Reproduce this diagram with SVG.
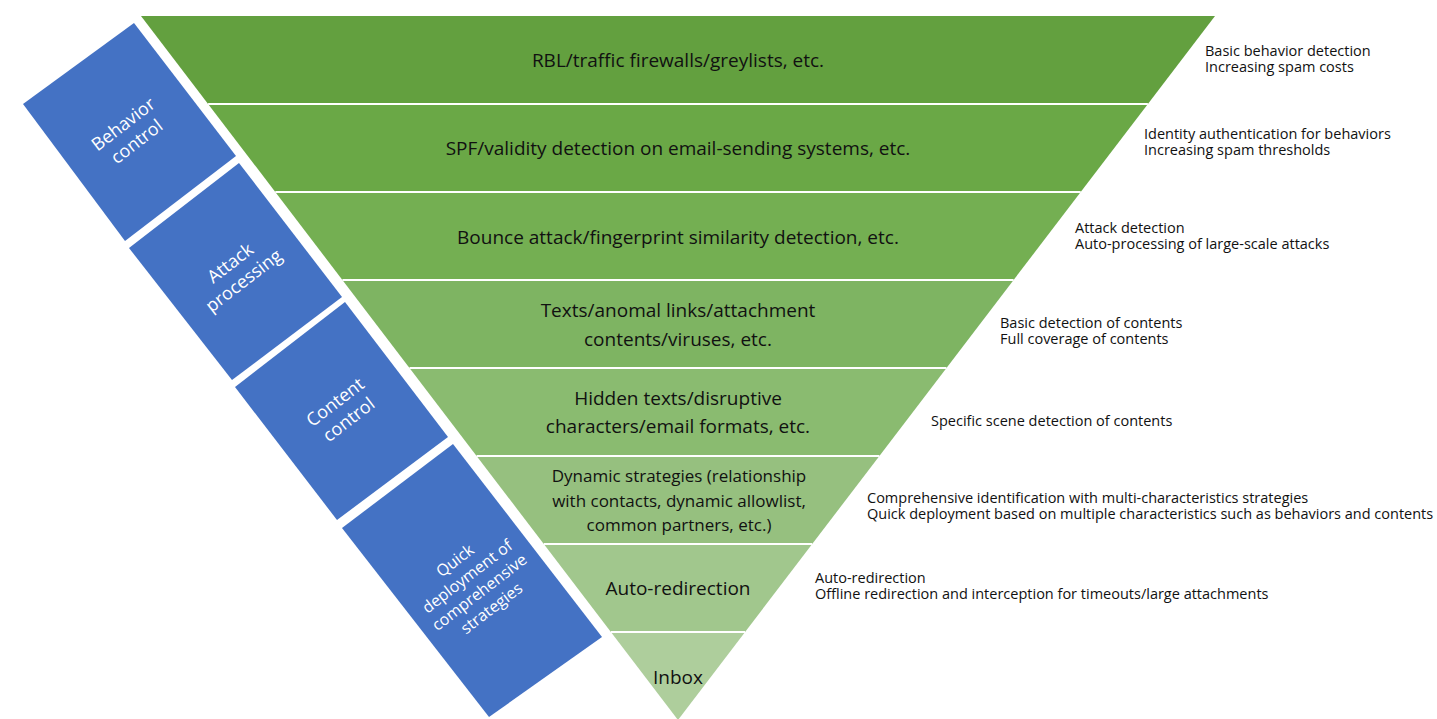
<svg xmlns="http://www.w3.org/2000/svg" width="1437" height="719" viewBox="0 0 1437 719">
  <style>
    .band-label { font-family: "Open Sans", "Noto Sans", sans-serif; font-size: 19px; fill: #111111; text-anchor: middle; }
    .band-label.small { font-size: 17px; }
    .stage { fill: #4472C4; }
    .stage-label { font-family: "Open Sans", "Noto Sans", sans-serif; font-size: 18px; fill: #ffffff; text-anchor: middle; }
    .stage-label.small { font-size: 16px; }
    .note { font-family: "Open Sans", "Noto Sans", sans-serif; font-size: 14.5px; fill: #111111; }
    .divider { stroke: #ffffff; stroke-width: 2; }
  </style>

  <rect width="1437" height="719" fill="#ffffff"/>

  <!-- Funnel bands, darkest at the top -->
  <g id="band-1">
    <polygon points="141,16 1215,16 1147.9,104 208.1,104" fill="#63A03F"/>
    <text class="band-label" x="678" y="67">RBL/traffic firewalls/greylists, etc.</text>
  </g>
  <g id="band-2">
    <polygon points="208.1,104 1147.9,104 1080.7,192 275.3,192" fill="#6AA846"/>
    <text class="band-label" x="678" y="155">SPF/validity detection on email-sending systems, etc.</text>
  </g>
  <g id="band-3">
    <polygon points="275.3,192 1080.7,192 1013.6,280 342.4,280" fill="#74AF52"/>
    <text class="band-label" x="678" y="244">Bounce attack/fingerprint similarity detection, etc.</text>
  </g>
  <g id="band-4">
    <polygon points="342.4,280 1013.6,280 946.5,368 409.5,368" fill="#7EB462"/>
    <text class="band-label" x="678" y="317">Texts/anomal links/attachment</text>
    <text class="band-label" x="678" y="346">contents/viruses, etc.</text>
  </g>
  <g id="band-5">
    <polygon points="409.5,368 946.5,368 879.4,456 476.6,456" fill="#8ABB70"/>
    <text class="band-label" x="678" y="405">Hidden texts/disruptive</text>
    <text class="band-label" x="678" y="433">characters/email formats, etc.</text>
  </g>
  <g id="band-6">
    <polygon points="476.6,456 879.4,456 812.2,544 543.8,544" fill="#96C07F"/>
    <text class="band-label small" x="679" y="482">Dynamic strategies (relationship</text>
    <text class="band-label small" x="679" y="507">with contacts, dynamic allowlist,</text>
    <text class="band-label small" x="679" y="531">common partners, etc.)</text>
  </g>
  <g id="band-7">
    <polygon points="543.8,544 812.2,544 745.1,632 610.9,632" fill="#A1C78D"/>
    <text class="band-label" x="678" y="595">Auto-redirection</text>
  </g>
  <g id="band-8">
    <polygon points="610.9,632 745.1,632 678,720" fill="#AECE9C"/>
    <text class="band-label" x="678" y="684">Inbox</text>
  </g>

  <!-- White separators between bands -->
  <g id="connectors">
    <line class="divider" x1="208.1" y1="104" x2="1147.9" y2="104"/>
    <line class="divider" x1="275.3" y1="192" x2="1080.7" y2="192"/>
    <line class="divider" x1="342.4" y1="280" x2="1013.6" y2="280"/>
    <line class="divider" x1="409.5" y1="368" x2="946.5" y2="368"/>
    <line class="divider" x1="476.6" y1="456" x2="879.4" y2="456"/>
    <line class="divider" x1="543.8" y1="544" x2="812.2" y2="544"/>
    <line class="divider" x1="610.9" y1="632" x2="745.1" y2="632"/>
  </g>

  <!-- Stage blocks along the left edge of the funnel -->
  <g id="stage-behavior">
    <polygon class="stage" points="134,23 236,156 125,241 23,104"/>
    <g transform="translate(130,133) rotate(-37.5)">
      <text class="stage-label" x="0" y="-5">Behavior</text>
      <text class="stage-label" x="0" y="17">control</text>
    </g>
  </g>
  <g id="stage-attack">
    <polygon class="stage" points="239,163 342,297 232,380 129,248"/>
    <g transform="translate(237,272) rotate(-37.5)">
      <text class="stage-label" x="0" y="-5">Attack</text>
      <text class="stage-label" x="0" y="17">processing</text>
    </g>
  </g>
  <g id="stage-content">
    <polygon class="stage" points="345,302 448,437 337,520 235,387"/>
    <g transform="translate(342,411) rotate(-37.5)">
      <text class="stage-label" x="0" y="-5">Content</text>
      <text class="stage-label" x="0" y="17">control</text>
    </g>
  </g>
  <g id="stage-strategies">
    <polygon class="stage" points="453,444 602,637 489,717 342,528"/>
    <g transform="translate(473,584) rotate(-37.5)">
      <text class="stage-label small" x="0" y="-24">Quick</text>
      <text class="stage-label small" x="0" y="-4">deployment of</text>
      <text class="stage-label small" x="0" y="16">comprehensive</text>
      <text class="stage-label small" x="0" y="36">strategies</text>
    </g>
  </g>

  <!-- Notes on the right of each band (tight two-line blocks) -->
  <g id="note-1">
    <text class="note"><tspan x="1205" y="56">Basic behavior detection</tspan><tspan x="1205" y="72">Increasing spam costs</tspan></text>
  </g>
  <g id="note-2">
    <text class="note"><tspan x="1144" y="139">Identity authentication for behaviors</tspan><tspan x="1144" y="155">Increasing spam thresholds</tspan></text>
  </g>
  <g id="note-3">
    <text class="note"><tspan x="1075" y="233">Attack detection</tspan><tspan x="1075" y="249">Auto-processing of large-scale attacks</tspan></text>
  </g>
  <g id="note-4">
    <text class="note"><tspan x="1000" y="328">Basic detection of contents</tspan><tspan x="1000" y="344">Full coverage of contents</tspan></text>
  </g>
  <g id="note-5">
    <text class="note" x="931" y="426">Specific scene detection of contents</text>
  </g>
  <g id="note-6">
    <text class="note"><tspan x="867" y="503">Comprehensive identification with multi-characteristics strategies</tspan><tspan x="867" y="519">Quick deployment based on multiple characteristics such as behaviors and contents</tspan></text>
  </g>
  <g id="note-7">
    <text class="note"><tspan x="815" y="583">Auto-redirection</tspan><tspan x="815" y="599">Offline redirection and interception for timeouts/large attachments</tspan></text>
  </g>
</svg>
